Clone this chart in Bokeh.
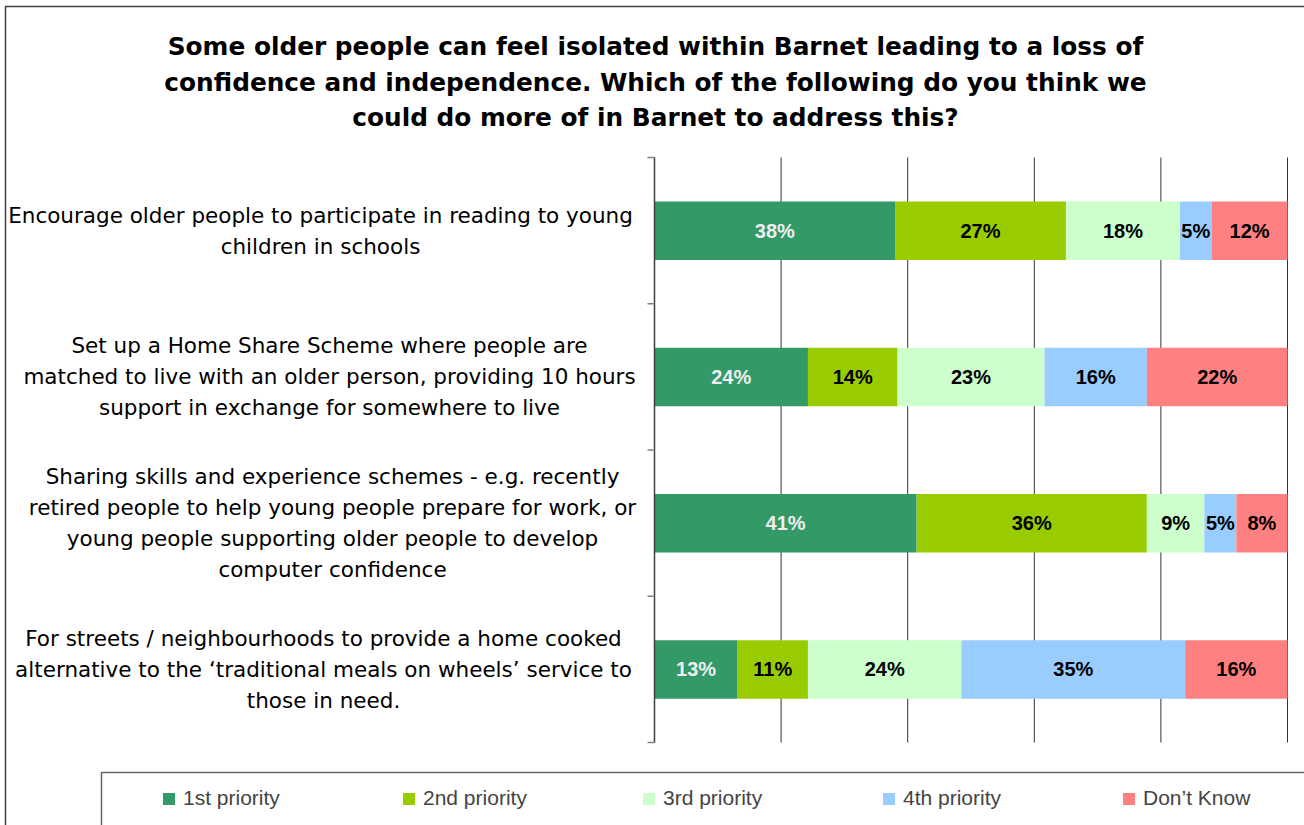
from bokeh.plotting import figure
from bokeh.models import Range1d, Legend, LegendItem
from bokeh.embed import file_html
from bokeh.resources import INLINE
from bokeh.core.properties import value

# ---------------- data ----------------
title_lines = [
    "Some older people can feel isolated within Barnet leading to a loss of",
    "confidence and independence. Which of the following do you think we",
    "could do more of in Barnet to address this?",
]
categories = [
    ["Encourage older people to participate in reading to young",
     "children in schools"],
    ["Set up a Home Share Scheme where people are",
     "matched to live with an older person, providing 10 hours",
     "support in exchange for somewhere to live"],
    ["Sharing skills and experience schemes - e.g. recently",
     "retired people to help young people prepare for work, or",
     "young people supporting older people to develop",
     "computer confidence"],
    ["For streets / neighbourhoods to provide a home cooked",
     "alternative to the \u2018traditional meals on wheels\u2019 service to",
     "those in need."],
]
series = ["1st priority", "2nd priority", "3rd priority", "4th priority", "Don\u2019t Know"]
first_priority = [38, 24, 41, 13]
second_priority = [27, 14, 36, 11]
third_priority = [18, 23, 9, 24]
fourth_priority = [5, 16, 5, 35]
dont_know = [12, 22, 8, 16]
grid_ticks = [0, 20, 40, 60, 80, 100]
colors = ["#339966", "#99CC00", "#CCFFCC", "#99CCFF", "#FF8080"]
label_colors = ["#EEEEEE", "#000000", "#000000", "#000000", "#000000"]

values = [first_priority, second_priority, third_priority, fourth_priority, dont_know]

# ---------------- layout constants ----------------
W, H = 1304, 825
FL, FR, FT, FB = 654, 1287, 157, 742   # plot-area edges in px
FONT = "Liberation Sans"
WIDE_FONT = "DejaVu Sans"
n = len(categories)

def px2x(px):
    return (px - FL) / (FR - FL) * 100.0

def py2y(py):
    return n - (py - FT) / (FB - FT) * n

PXX = 100.0 / (FR - FL)      # data units per px (x)

p = figure(width=W, height=H, output_backend="svg", toolbar_location=None,
           x_range=Range1d(px2x(0), px2x(W)), y_range=Range1d(py2y(H), py2y(0)),
           x_axis_location=None, y_axis_location=None,
           min_border_left=0, min_border_right=0, min_border_top=0, min_border_bottom=0)
p.outline_line_color = None
p.background_fill_color = "white"
p.border_fill_color = "white"
p.xgrid.visible = False
p.ygrid.visible = False

# ---------------- grid lines (value axis) ----------------
p.segment(x0=grid_ticks, x1=grid_ticks, y0=[0] * len(grid_ticks), y1=[n] * len(grid_ticks),
          line_color="#333333", line_width=1)

# ---------------- stacked bars ----------------
ys = [n - 0.5 - i for i in range(n)]
renderers = []
lefts = [0.0] * n
totals = [sum(v[i] for v in values) for i in range(n)]
for s_idx, (name, vals) in enumerate(zip(series, values)):
    widths = [vals[i] / totals[i] * 100.0 for i in range(n)]
    rights = [lefts[i] + widths[i] for i in range(n)]
    r = p.hbar(y=ys, left=list(lefts), right=rights, height=0.4,
               fill_color=colors[s_idx], line_color=None)
    renderers.append(r)
    mids = [(lefts[i] + rights[i]) / 2 for i in range(n)]
    p.text(x=mids, y=ys, text=[f"{v}%" for v in vals],
           text_align="center", text_baseline="middle",
           text_font=value(FONT), text_font_size="20px", text_font_style="bold",
           text_color=label_colors[s_idx])
    lefts = rights

# ---------------- category axis (line + ticks) ----------------
band_edges = list(range(n + 1))
p.segment(x0=[0], x1=[0], y0=[0], y1=[n], line_color="#404040", line_width=1.5)
p.segment(x0=[0] * len(band_edges), x1=[-7 * PXX] * len(band_edges),
          y0=band_edges, y1=band_edges, line_color="#808080", line_width=1.5)

# ---------------- title ----------------
title_y = [46, 82, 117]
p.text(x=[px2x(655)] * len(title_lines), y=[py2y(t) for t in title_y], text=title_lines,
       text_align="center", text_baseline="middle", text_font=value(WIDE_FONT),
       text_font_size="24.8px", text_font_style="bold", text_color="#000000")

# ---------------- category labels ----------------
cat_centers = [320, 329, 332, 323]
line_gap = 31
lx, ly, lt = [], [], []
for i, lines in enumerate(categories):
    band_mid = FT + (i + 0.5) * (FB - FT) / n
    start = band_mid - (len(lines) - 1) * line_gap / 2
    for j, line in enumerate(lines):
        lx.append(px2x(cat_centers[i]))
        ly.append(py2y(start + j * line_gap))
        lt.append(line)
p.text(x=lx, y=ly, text=lt, text_align="center", text_baseline="middle",
       text_font=value(WIDE_FONT), text_font_size="21.5px", text_color="#000000")

# ---------------- borders ----------------
p.quad(left=[px2x(5)], right=[px2x(1330)], top=[py2y(6)], bottom=[py2y(860)],
       fill_color=None, line_color="#404040", line_width=1.5)
p.quad(left=[px2x(101)], right=[px2x(1330)], top=[py2y(772)], bottom=[py2y(860)],
       fill_color=None, line_color="#666666", line_width=1.5)

# ---------------- legend ----------------
legend = Legend(items=[LegendItem(label=s, renderers=[r]) for s, r in zip(series, renderers)],
                orientation="horizontal", location=(161, H - 810),
                padding=0, margin=0, spacing=18, label_standoff=7,
                glyph_width=15, glyph_height=15, label_width=200, label_height=15,
                label_text_font=FONT, label_text_font_size="21px",
                border_line_color=None, background_fill_alpha=0)
p.add_layout(legend, "center")

open("out.html", "w").write(file_html(p, INLINE))
